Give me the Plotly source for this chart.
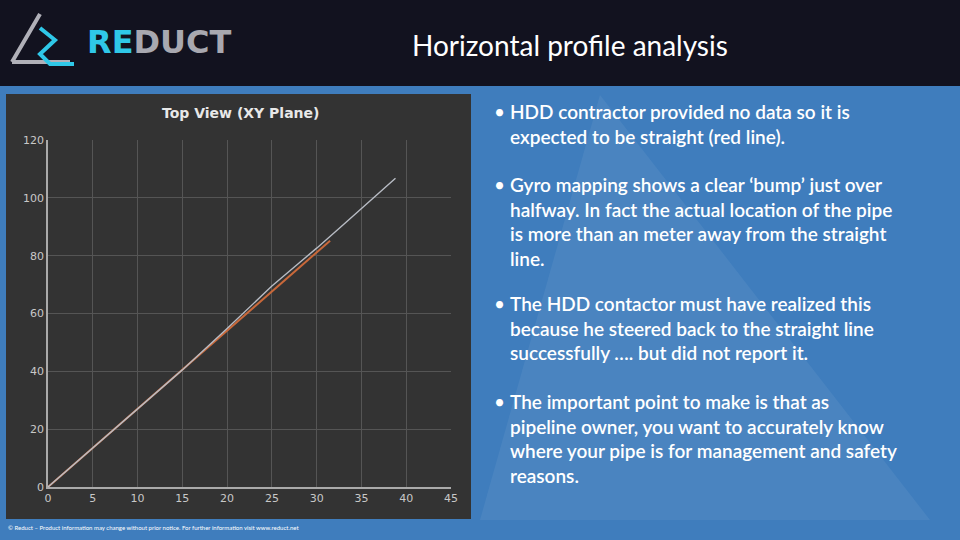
import plotly.graph_objects as go

gyro_x = [0, 5, 10, 15, 20, 22, 25, 28, 30, 33, 36, 38.8]
gyro_y = [0, 13.5, 27, 40.5, 54.8, 60.6, 69.5, 77.4, 82.6, 90.8, 99.0, 106.8]
straight_x = [0, 31.5]
straight_y = [0, 85.2]
x_ticks = [0, 5, 10, 15, 20, 25, 30, 35, 40, 45]
y_ticks = [0, 20, 40, 60, 80, 100, 120]

bullets = [
    "HDD contractor provided no data so it is<br>expected to be straight (red line).",
    "Gyro mapping shows a clear ‘bump’ just over<br>halfway. In fact the actual location of the pipe<br>is more than an meter away from the straight<br>line.",
    "The HDD contactor must have realized this<br>because he steered back to the straight line<br>successfully …. but did not report it.",
    "The important point to make is that as<br>pipeline owner, you want to accurately know<br>where your pipe is for management and safety<br>reasons.",
]
bullet_tops = [98, 171, 290, 388]

W, H = 960, 540
FONT = "Lato, sans-serif"

fig = go.Figure()
fig.add_trace(go.Scatter(x=straight_x, y=straight_y, mode="lines",
                         line=dict(color="#c8683a", width=2), showlegend=False))
fig.add_trace(go.Scatter(x=gyro_x, y=gyro_y, mode="lines",
                         line=dict(color="#b8bcc4", width=1.4), showlegend=False))

def px(x): return x / W
def py(y): return 1 - y / H

shapes = [
    dict(type="path", xref="paper", yref="paper",
         path=f"M {px(600)} {py(95)} L {px(930)} {py(520)} L {px(480)} {py(520)} Z",
         fillcolor="rgba(255,255,255,0.06)", line_width=0, layer="below"),
    dict(type="rect", xref="paper", yref="paper", x0=-0.01, x1=1.01, y0=py(86), y1=1.01,
         fillcolor="#12121f", line_width=0, layer="below"),
    dict(type="rect", xref="paper", yref="paper", x0=px(6), x1=px(471), y0=py(519), y1=py(94),
         fillcolor="#333333", line_width=0, layer="below"),
]

annotations = [
    dict(text="<b>Top View (XY Plane)</b>", x=px(240), y=py(113), xref="paper", yref="paper",
         showarrow=False, font=dict(family="DejaVu Sans", size=14, color="#e8e8e8"),
         xanchor="center", yanchor="middle"),
    dict(text="Horizontal profile analysis", x=px(570), y=py(45), xref="paper", yref="paper",
         showarrow=False, font=dict(family=FONT, size=28, color="white"),
         xanchor="center", yanchor="middle"),
    dict(text="<b><span style='color:#2fc8e8'>RE</span>DUCT</b>", x=px(85), y=py(42), xref="paper", yref="paper",
         showarrow=False, font=dict(family="DejaVu Sans", size=32, color="#a8a8b0"),
         xanchor="left", yanchor="middle"),
    dict(text="© Reduct – Product information may change without prior notice. For further information visit www.reduct.net",
         x=px(6), y=py(527), xref="paper", yref="paper", showarrow=False,
         font=dict(family=FONT, size=6, color="white"), xanchor="left", yanchor="middle"),
]
for t, top in zip(bullets, bullet_tops):
    annotations.append(dict(text="•", x=px(492), y=py(top), xref="paper", yref="paper",
                            showarrow=False, font=dict(family=FONT, size=19, color="white"),
                            xanchor="left", yanchor="top"))
    annotations.append(dict(text=t, x=px(508), y=py(top), xref="paper", yref="paper",
                            showarrow=False, align="left",
                            font=dict(family=FONT, size=19, color="white", weight=600),
                            xanchor="left", yanchor="top"))

shapes.append(dict(type="path", xref="paper", yref="paper",
                   path=f"M {px(12)} {py(62)} L {px(40)} {py(14)} M {px(12)} {py(62)} L {px(70)} {py(62)}",
                   line=dict(color="#b0b0b8", width=4)))
shapes.append(dict(type="path", xref="paper", yref="paper",
                   path=f"M {px(40)} {py(28)} L {px(55)} {py(40)} L {px(40)} {py(54)} L {px(50)} {py(64)} L {px(74)} {py(64)}",
                   line=dict(color="#2fc8e8", width=4)))

fig.update_layout(
    width=W, height=H, margin=dict(l=0, r=0, t=0, b=0, pad=0, autoexpand=False),
    paper_bgcolor="#3f7dbd", plot_bgcolor="rgba(0,0,0,0)",
    shapes=shapes, annotations=annotations,
    xaxis=dict(domain=[px(48), px(451)], range=[0, 45], tickvals=x_ticks, automargin=False,
               showgrid=True, gridcolor="#555555", zeroline=False,
               showline=True, linecolor="#aaaaaa", linewidth=1.5,
               tickfont=dict(family="DejaVu Sans", size=11, color="#c8c8c8"), fixedrange=True),
    yaxis=dict(domain=[py(487), py(140)], range=[0, 120], tickvals=y_ticks, automargin=False,
               showgrid=True, gridcolor="#555555", zeroline=False,
               showline=True, linecolor="#aaaaaa", linewidth=1.5,
               tickfont=dict(family="DejaVu Sans", size=11, color="#c8c8c8"), fixedrange=True),
)

fig.write_html("out.html", config={"displayModeBar": False},
               post_script="document.body.style.margin='0';document.body.style.overflow='hidden';")
